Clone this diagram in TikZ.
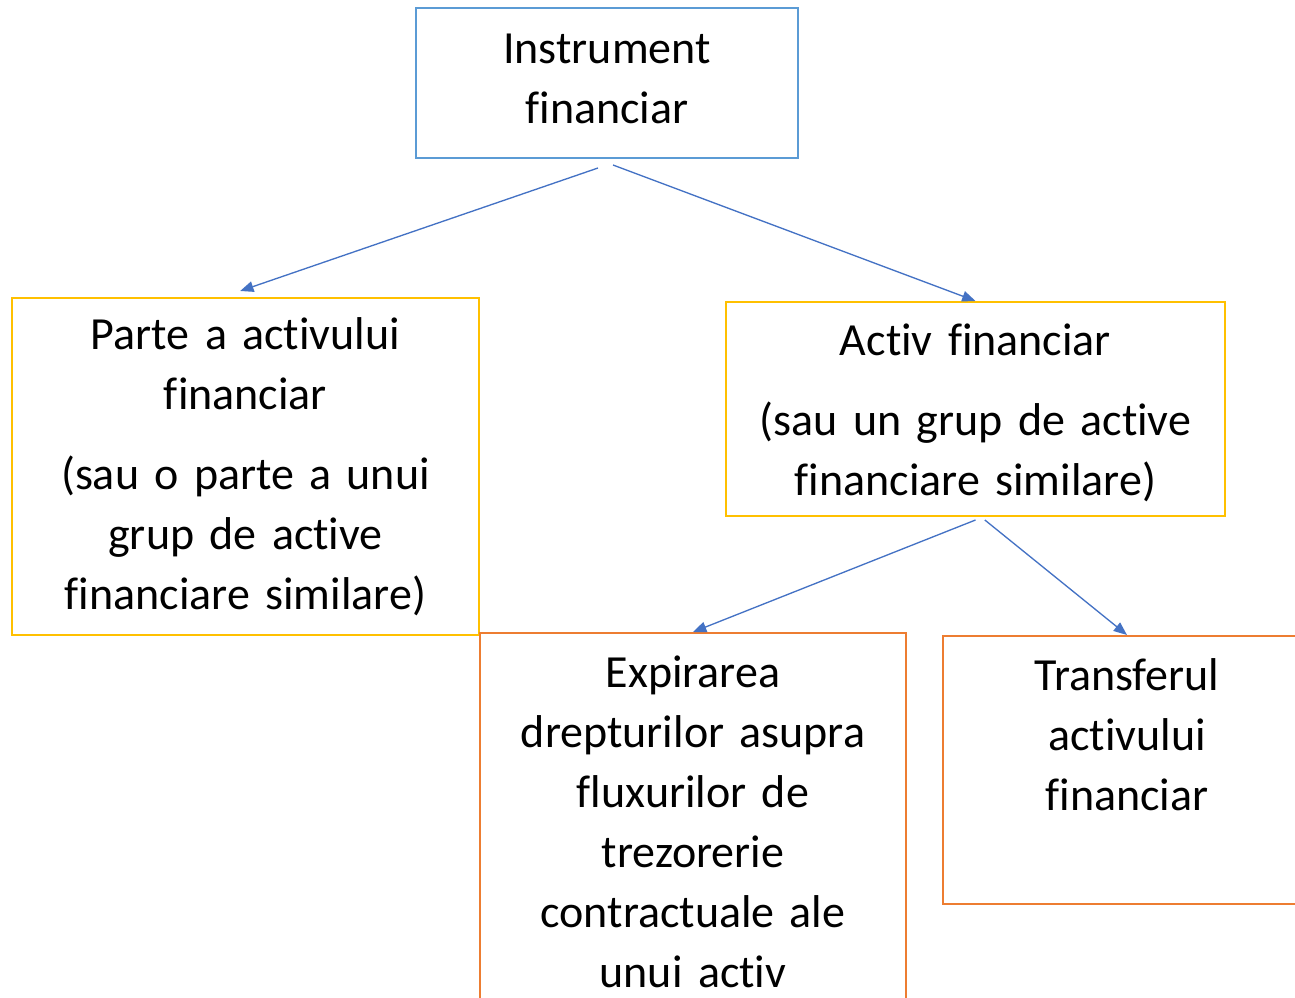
\documentclass[tikz,border=0pt]{standalone}
\usepackage{fontspec}
\setmainfont{Carlito}[Ligatures=CommonOff]
\usetikzlibrary{positioning,arrows.meta}

\definecolor{boxblue}{HTML}{5B9BD5}
\definecolor{boxyellow}{HTML}{FFC000}
\definecolor{boxorange}{HTML}{ED7D31}
\definecolor{arrowblue}{HTML}{4472C4}

\begin{document}
\begin{tikzpicture}[x=0.75pt,y=-0.75pt,
    box/.style={draw,line width=1.5pt,align=center,inner sep=0pt,
      font=\fontsize{34.5}{45}\selectfont},
    topbox/.style={box,draw=boxorange,anchor=north,text height=41pt},
    arr/.style={arrowblue,line width=1pt,-{Triangle[length=10pt,width=8pt]}}]
  \useasboundingbox (0,0) rectangle (1295,998);
  \clip (0,0) rectangle (1295,998);

  \node[box,draw=boxblue,text width=286.5pt,minimum height=112.5pt,text depth=52pt](instr) at (607,83)
    {Instrument\\financiar};
  \node[box,draw=boxyellow,text width=350.25pt,minimum height=252.75pt](parte) at (245.5,466.5)
    {Parte a activului\\financiar\\[15pt](sau o parte a unui\\grup de active\\financiare similare)};
  \node[box,draw=boxyellow,text width=374.25pt,minimum height=160.5pt,text depth=103.5pt](activ) at (975.5,409)
    {Activ financiar\\[15pt](sau un grup de active\\financiare similare)};
  \node[topbox,text width=319.5pt,text depth=244pt](expir) at (693,632)
    {Expirarea\\drepturilor asupra\\fluxurilor de\\trezorerie\\contractuale ale\\unui activ};
  \node[topbox,text width=276pt,text depth=160pt](transf) at (1127,635)
    {Transferul\\activului\\financiar};

  \draw[arr] ([shift={(-6.75pt,-6.75pt)}]instr.south) -- ([shift={(-4pt,4.5pt)}]parte.north);
  \draw[arr] ([shift={(4.5pt,-4.5pt)}]instr.south) -- (activ.north);
  \draw[arr] ([yshift=-2.25pt]activ.south) -- (expir.north);
  \draw[arr] ([shift={(7pt,-2.25pt)}]activ.south) -- (transf.north);
\end{tikzpicture}
\end{document}
